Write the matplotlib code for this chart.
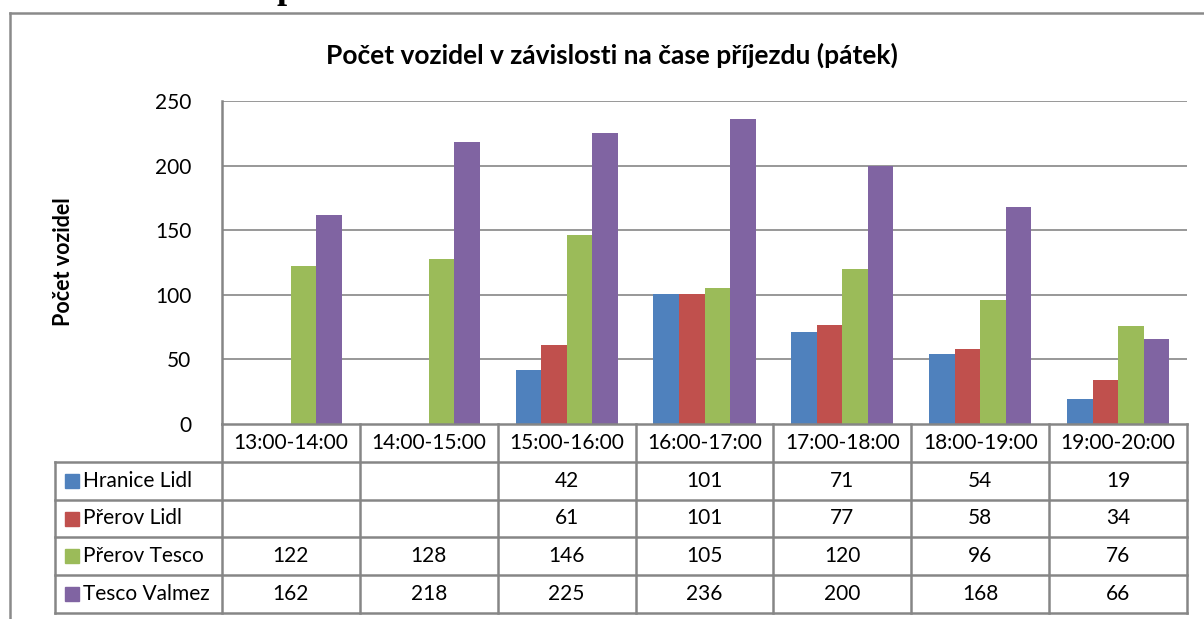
import numpy as np
import matplotlib.pyplot as plt
from matplotlib.lines import Line2D

plt.rcParams['font.family'] = ['Lato', 'DejaVu Sans']

categories = ['13:00-14:00', '14:00-15:00', '15:00-16:00', '16:00-17:00',
              '17:00-18:00', '18:00-19:00', '19:00-20:00']
series_names = ['Hranice Lidl', 'Přerov Lidl', 'Přerov Tesco', 'Tesco Valmez']
hranice_lidl = [None, None, 42, 101, 71, 54, 19]
prerov_lidl = [None, None, 61, 101, 77, 58, 34]
prerov_tesco = [122, 128, 146, 105, 120, 96, 76]
tesco_valmez = [162, 218, 225, 236, 200, 168, 66]
colors = ['#4F81BD', '#C0504D', '#9BBB59', '#8064A2']
yticks = [0, 50, 100, 150, 200, 250]

title = 'Počet vozidel v závislosti na čase příjezdu (pátek)'
ylabel = 'Počet vozidel'

W, H = 1204, 619
fig = plt.figure(figsize=(W / 100, H / 100), dpi=100)
grid_c = '#868686'
fs = 15


def fx(px):
    return px / W


def fy(py):
    return 1 - py / H


# main bar axes
ax = fig.add_axes([fx(222), fy(424), fx(1187) - fx(222), fy(101) - fy(424)])
data = [hranice_lidl, prerov_lidl, prerov_tesco, tesco_valmez]
x = np.arange(len(categories))
bw = 0.185
for i, (vals, c) in enumerate(zip(data, colors)):
    v = np.array([np.nan if a is None else a for a in vals], dtype=float)
    ax.bar(x + (i - 1.5) * bw, v, width=bw, color=c, zorder=3)

ax.set_xlim(-0.5, len(categories) - 0.5)
ax.set_ylim(0, 250)
ax.set_yticks(yticks)
ax.set_yticklabels([str(t) for t in yticks], fontsize=fs)
ax.tick_params(axis='y', length=0, pad=22)
ax.set_xticks([])
for t in yticks[1:]:
    ax.axhline(t, color=grid_c, lw=1.2, zorder=1)
for s in ['top', 'right', 'bottom']:
    ax.spines[s].set_visible(False)
ax.spines['left'].set_color(grid_c)
ax.spines['left'].set_linewidth(1.8)

# data table axes
tx0 = -0.5 - (222 - 55) / ((1187 - 222) / 7)
tab = fig.add_axes([fx(55), fy(613), fx(1187) - fx(55), fy(424) - fy(613)])
tab.set_xlim(tx0, 6.5)
tab.set_ylim(5, 0)
tab.axis('off')
lw = 1.8
tab.plot([-0.5, 6.5], [0, 0], color=grid_c, lw=lw, clip_on=False)
for r in range(1, 6):
    tab.plot([tx0, 6.5], [r, r], color=grid_c, lw=lw, clip_on=False)
for k in range(8):
    tab.plot([k - 0.5, k - 0.5], [0, 5], color=grid_c, lw=lw, clip_on=False)
tab.plot([tx0, tx0], [1, 5], color=grid_c, lw=lw, clip_on=False)

for j, cat in enumerate(categories):
    tab.text(j, 0.5, cat, ha='center', va='center', fontsize=fs)
for i, (name, vals, c) in enumerate(zip(series_names, data, colors)):
    tab.plot([tx0 + 0.12], [i + 1.5], marker='s', ms=9.5, color=c, clip_on=False)
    tab.text(tx0 + 0.205, i + 1.5, name, ha='left', va='center', fontsize=fs)
    for j, v in enumerate(vals):
        if v is not None:
            tab.text(j, i + 1.5, str(v), ha='center', va='center', fontsize=fs)

# titles
fig.text(fx(612), fy(55), title, ha='center', va='center', fontsize=19,
         fontweight='bold')
fig.text(fx(63), fy(262), ylabel, ha='center', va='center', fontsize=15.5,
         fontweight='bold', rotation=90)

# chart frame
fig.add_artist(Line2D([fx(10), 1], [fy(13), fy(13)], color='#8a8a8a', lw=1.8))
fig.add_artist(Line2D([fx(10), fx(10)], [fy(13), 0], color='#8a8a8a', lw=1.8))

# heading glyph cut off by the top edge, as in the source image
fig.text(fx(287), fy(-2), 'p', ha='center', va='baseline', fontsize=26,
         fontweight='bold', family='Liberation Serif')

fig.savefig('out.png', dpi=100)
